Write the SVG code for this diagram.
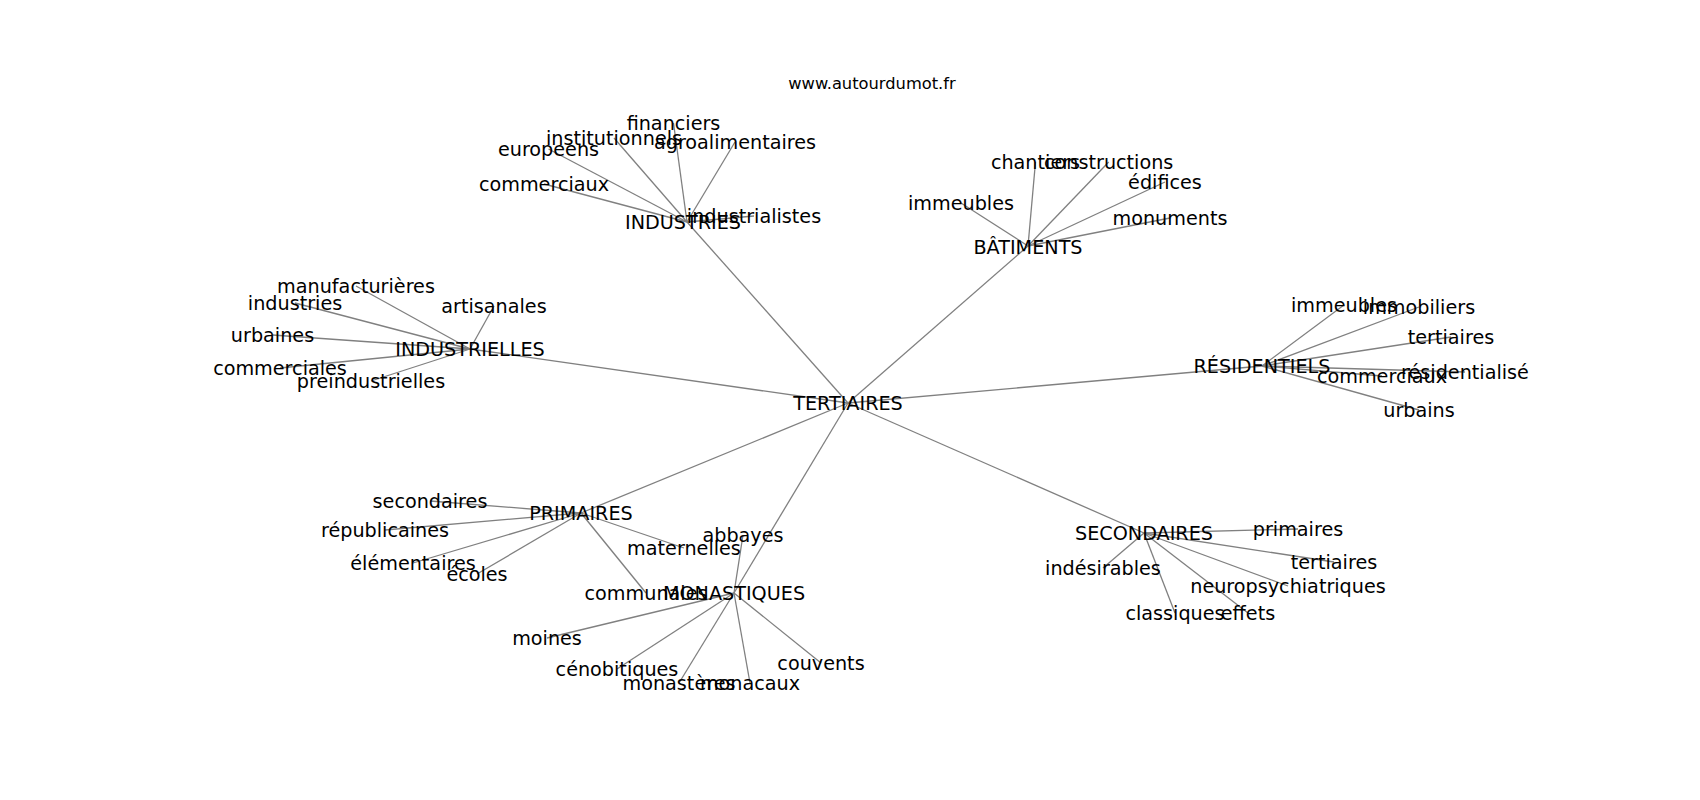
<svg xmlns="http://www.w3.org/2000/svg" width="1700" height="800" viewBox="0 0 1700 800">
<style>
.e{stroke:#808080;stroke-width:1.3;fill:none}
text{font-family:"DejaVu Sans",sans-serif;font-size:19.2px;fill:#000;text-anchor:middle}
.t{font-size:16.3px}
</style>
<rect width="1700" height="800" fill="#fff"/>
<text class="t" x="872" y="89">www.autourdumot.fr</text>
<g id="edges">
<line class="e" x1="848" y1="403" x2="687" y2="222"/>
<line class="e" x1="848" y1="403" x2="1028" y2="246"/>
<line class="e" x1="848" y1="403" x2="470" y2="349"/>
<line class="e" x1="848" y1="403" x2="1262" y2="366"/>
<line class="e" x1="848" y1="403" x2="581" y2="513"/>
<line class="e" x1="848" y1="403" x2="734" y2="593"/>
<line class="e" x1="848" y1="403" x2="1144" y2="533"/>
<line class="e" x1="687" y1="222" x2="673.5" y2="123"/>
<line class="e" x1="687" y1="222" x2="614" y2="138"/>
<line class="e" x1="687" y1="222" x2="735" y2="142"/>
<line class="e" x1="687" y1="222" x2="548.5" y2="149"/>
<line class="e" x1="687" y1="222" x2="544" y2="184"/>
<line class="e" x1="687" y1="222" x2="754" y2="216"/>
<line class="e" x1="1028" y1="246" x2="1035.5" y2="162"/>
<line class="e" x1="1028" y1="246" x2="1108.7" y2="162"/>
<line class="e" x1="1028" y1="246" x2="1165" y2="182"/>
<line class="e" x1="1028" y1="246" x2="961" y2="203"/>
<line class="e" x1="1028" y1="246" x2="1170" y2="218"/>
<line class="e" x1="1262" y1="366" x2="1344" y2="305"/>
<line class="e" x1="1262" y1="366" x2="1419" y2="307"/>
<line class="e" x1="1262" y1="366" x2="1451" y2="337"/>
<line class="e" x1="1262" y1="366" x2="1465" y2="372"/>
<line class="e" x1="1262" y1="366" x2="1382" y2="376"/>
<line class="e" x1="1262" y1="366" x2="1419" y2="410"/>
<line class="e" x1="470" y1="349" x2="356" y2="286"/>
<line class="e" x1="470" y1="349" x2="295" y2="303"/>
<line class="e" x1="470" y1="349" x2="494" y2="306"/>
<line class="e" x1="470" y1="349" x2="272.5" y2="335"/>
<line class="e" x1="470" y1="349" x2="280" y2="368"/>
<line class="e" x1="470" y1="349" x2="371" y2="381"/>
<line class="e" x1="581" y1="513" x2="430" y2="501"/>
<line class="e" x1="581" y1="513" x2="385" y2="530"/>
<line class="e" x1="581" y1="513" x2="684" y2="548"/>
<line class="e" x1="581" y1="513" x2="413" y2="563"/>
<line class="e" x1="581" y1="513" x2="477" y2="574"/>
<line class="e" x1="581" y1="513" x2="646" y2="593"/>
<line class="e" x1="734" y1="593" x2="743" y2="535"/>
<line class="e" x1="734" y1="593" x2="547" y2="638"/>
<line class="e" x1="734" y1="593" x2="617" y2="669"/>
<line class="e" x1="734" y1="593" x2="679" y2="683"/>
<line class="e" x1="734" y1="593" x2="750" y2="683"/>
<line class="e" x1="734" y1="593" x2="821" y2="663"/>
<line class="e" x1="1144" y1="533" x2="1298" y2="529"/>
<line class="e" x1="1144" y1="533" x2="1334" y2="562"/>
<line class="e" x1="1144" y1="533" x2="1288" y2="586"/>
<line class="e" x1="1144" y1="533" x2="1175" y2="613"/>
<line class="e" x1="1144" y1="533" x2="1248" y2="613"/>
<line class="e" x1="1144" y1="533" x2="1103" y2="568"/>
</g>
<g id="n-tertiaires"><text x="848" y="410">TERTIAIRES</text></g>
<g id="n-industries"><text x="683" y="229">INDUSTRIES</text></g>
<g id="n-batiments"><text x="1028" y="254">BÂTIMENTS</text></g>
<g id="n-industrielles"><text x="470" y="356">INDUSTRIELLES</text></g>
<g id="n-residentiels"><text x="1262" y="373">RÉSIDENTIELS</text></g>
<g id="n-primaires"><text x="581" y="520">PRIMAIRES</text></g>
<g id="n-monastiques"><text x="734" y="600">MONASTIQUES</text></g>
<g id="n-secondaires"><text x="1144" y="540">SECONDAIRES</text></g>
<g id="n-financiers"><text x="673.5" y="130">financiers</text></g>
<g id="n-institutionnels"><text x="614" y="145">institutionnels</text></g>
<g id="n-agroalimentaires"><text x="735" y="149">agroalimentaires</text></g>
<g id="n-europeens"><text x="548.5" y="156">europeens</text></g>
<g id="n-commerciaux1"><text x="544" y="191">commerciaux</text></g>
<g id="n-industrialistes"><text x="754" y="223">industrialistes</text></g>
<g id="n-chantiers"><text x="1035.5" y="169">chantiers</text></g>
<g id="n-constructions"><text x="1108.7" y="169">constructions</text></g>
<g id="n-edifices"><text x="1165" y="189">édifices</text></g>
<g id="n-immeubles1"><text x="961" y="210">immeubles</text></g>
<g id="n-monuments"><text x="1170" y="225">monuments</text></g>
<g id="n-immeubles2"><text x="1344" y="312">immeubles</text></g>
<g id="n-immobiliers"><text x="1419" y="314">immobiliers</text></g>
<g id="n-tertiaires2"><text x="1451" y="344">tertiaires</text></g>
<g id="n-residentialise"><text x="1465" y="379">résidentialisé</text></g>
<g id="n-commerciaux2"><text x="1382" y="383">commerciaux</text></g>
<g id="n-urbains"><text x="1419" y="417">urbains</text></g>
<g id="n-manufacturieres"><text x="356" y="293">manufacturières</text></g>
<g id="n-industries2"><text x="295" y="310">industries</text></g>
<g id="n-artisanales"><text x="494" y="313">artisanales</text></g>
<g id="n-urbaines"><text x="272.5" y="342">urbaines</text></g>
<g id="n-commerciales"><text x="280" y="375">commerciales</text></g>
<g id="n-preindustrielles"><text x="371" y="388">preindustrielles</text></g>
<g id="n-secondaires2"><text x="430" y="508">secondaires</text></g>
<g id="n-republicaines"><text x="385" y="537">républicaines</text></g>
<g id="n-maternelles"><text x="684" y="555">maternelles</text></g>
<g id="n-elementaires"><text x="413" y="570">élémentaires</text></g>
<g id="n-ecoles"><text x="477" y="581">écoles</text></g>
<g id="n-communales"><text x="646" y="600">communales</text></g>
<g id="n-abbayes"><text x="743" y="542">abbayes</text></g>
<g id="n-moines"><text x="547" y="645">moines</text></g>
<g id="n-cenobitiques"><text x="617" y="676">cénobitiques</text></g>
<g id="n-monasteres"><text x="679" y="690">monastères</text></g>
<g id="n-monacaux"><text x="750" y="690">monacaux</text></g>
<g id="n-couvents"><text x="821" y="670">couvents</text></g>
<g id="n-primaires2"><text x="1298" y="536">primaires</text></g>
<g id="n-tertiaires3"><text x="1334" y="569">tertiaires</text></g>
<g id="n-neuropsychiatriques"><text x="1288" y="593">neuropsychiatriques</text></g>
<g id="n-classiques"><text x="1175" y="620">classiques</text></g>
<g id="n-effets"><text x="1248" y="620">effets</text></g>
<g id="n-indesirables"><text x="1103" y="575">indésirables</text></g>
</svg>
